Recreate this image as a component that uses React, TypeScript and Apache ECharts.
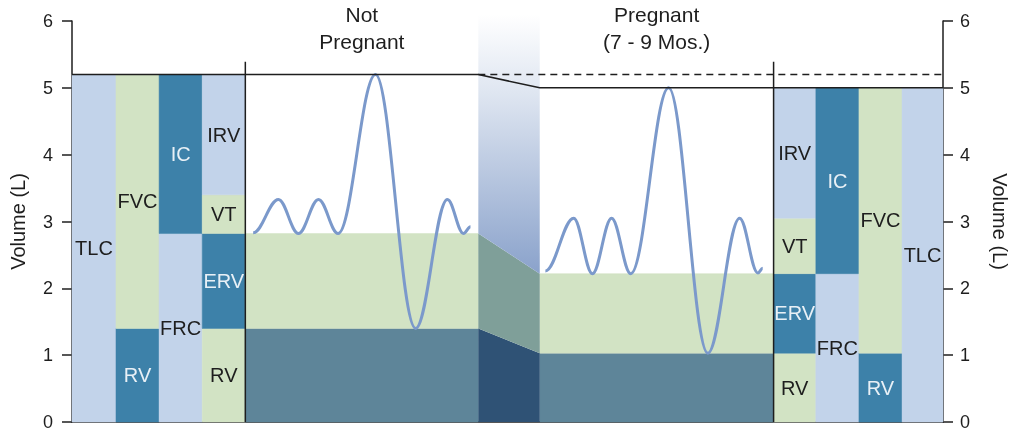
import React, { useEffect, useRef } from "react";
import * as echarts from "echarts";

// ---- data ----
const volumeNames = ["RV", "ERV", "VT", "IRV"];
const notPregnantVolumes = [1.4, 1.42, 0.58, 1.8];
const pregnantVolumes = [1.03, 1.19, 0.83, 1.95];

// x extents (in chart x units) of the columns and sections
const leftColumnEdges = [0, 1.01, 2.0, 2.99, 3.98];
const sectionEdges = [3.98, 9.33, 10.74, 16.11];
const rightColumnEdges = [16.11, 17.08, 18.07, 19.06, 20];
const sectionTitles = ["Not\nPregnant", "Pregnant\n(7 - 9 Mos.)"];
const dividerTop = 5.39;

// breathing traces: turning points
const notPregnantBreathX = [4.16, 4.74, 5.2, 5.66, 6.11, 6.97, 7.89, 8.62, 8.99, 9.15];
const notPregnantBreathY = [2.83, 3.33, 2.82, 3.33, 2.82, 5.2, 1.4, 3.33, 2.82, 2.92];
const pregnantBreathX = [10.87, 11.52, 11.95, 12.39, 12.83, 13.7, 14.6, 15.33, 15.75, 15.86];
const pregnantBreathY = [2.26, 3.05, 2.22, 3.05, 2.22, 5.0, 1.03, 3.05, 2.23, 2.3];

const yTicks = [0, 1, 2, 3, 4, 5, 6];

// ---- styles ----
const FONT = '"Liberation Sans", Arial, sans-serif';
const COLORS: Record<string, string> = {
  light: "#c2d3ea",
  green: "#d2e3c4",
  teal: "#3d81a9",
  dark: "#5e8599",
  navy: "#2f5275",
  slate: "#7f9f99",
};
const TEXT_DARK = "#1e1e1e";
const TEXT_LIGHT = "#e8f0f6";
const TRACE = "#7b99cb";

function cumulative(v: number[]) {
  const out = [0];
  v.forEach((x) => out.push(out[out.length - 1] + x));
  return out; // [0, RV, FRC, FRC+VT, TLC]
}

type Rect = { x0: number; x1: number; y0: number; y1: number; fill: string; label?: string };

function capacityColumns(vols: number[], edges: number[], mirrored: boolean): Rect[] {
  const c = cumulative(vols);
  const rv = c[1];
  const frc = c[2];
  const tlc = c[4];
  const cols: ((x0: number, x1: number) => Rect[])[] = [
    (x0, x1) => [{ x0, x1, y0: 0, y1: tlc, fill: "light", label: "TLC" }],
    (x0, x1) => [
      { x0, x1, y0: 0, y1: rv, fill: "teal", label: "RV" },
      { x0, x1, y0: rv, y1: tlc, fill: "green", label: "FVC" },
    ],
    (x0, x1) => [
      { x0, x1, y0: 0, y1: frc, fill: "light", label: "FRC" },
      { x0, x1, y0: frc, y1: tlc, fill: "teal", label: "IC" },
    ],
    (x0, x1) => {
      const fills = ["green", "teal", "green", "light"];
      return volumeNames.map((n, i) => ({ x0, x1, y0: c[i], y1: c[i + 1], fill: fills[i], label: n }));
    },
  ];
  const order = mirrored ? [3, 2, 1, 0] : [0, 1, 2, 3];
  const rects: Rect[] = [];
  order.forEach((k, i) => rects.push(...cols[k](edges[i], edges[i + 1])));
  return rects;
}

function sectionRects(vols: number[], x0: number, x1: number): Rect[] {
  const c = cumulative(vols);
  return [
    { x0, x1, y0: 0, y1: c[1], fill: "dark" },
    { x0, x1, y0: c[1], y1: c[2], fill: "green" },
  ];
}

export default function App() {
  const ref = useRef<HTMLDivElement>(null);

  useEffect(() => {
    const chart = echarts.init(ref.current!, undefined, { renderer: "svg" });

    const np = cumulative(notPregnantVolumes);
    const pg = cumulative(pregnantVolumes);
    const xa = sectionEdges[1];
    const xb = sectionEdges[2];

    const rects: Rect[] = [
      ...capacityColumns(notPregnantVolumes, leftColumnEdges, false),
      ...sectionRects(notPregnantVolumes, sectionEdges[0], sectionEdges[1]),
      ...sectionRects(pregnantVolumes, sectionEdges[2], sectionEdges[3]),
      ...capacityColumns(pregnantVolumes, rightColumnEdges, true),
    ];

    const gradient = new echarts.graphic.LinearGradient(0, 0, 0, 1, [
      { offset: 0, color: "#ffffff" },
      { offset: 0.3, color: "#dfe6f1" },
      { offset: 1, color: "#8aa2cb" },
    ]);
    const polys = [
      { pts: [[xa, 0], [xa, np[1]], [xb, pg[1]], [xb, 0]], fill: COLORS.navy as any },
      { pts: [[xa, np[1]], [xa, np[2]], [xb, pg[2]], [xb, pg[1]]], fill: COLORS.slate as any },
      { pts: [[xa, np[2]], [xa, 6.1], [xb, 6.1], [xb, pg[2]]], fill: gradient as any },
    ];

    const traces = [
      notPregnantBreathX.map((x, i) => [x, notPregnantBreathY[i]]),
      pregnantBreathX.map((x, i) => [x, pregnantBreathY[i]]),
    ];

    const blackLine = { color: "#1e1e1e", width: 1.5 };

    const option: any = {
      animation: false,
      grid: { left: 72, right: 68, top: 21, bottom: 16, outerBoundsMode: "none", containLabel: false },
      xAxis: {
        type: "value",
        min: 0,
        max: 20,
        axisLine: { show: true, onZero: false, lineStyle: blackLine },
        axisTick: { show: false },
        axisLabel: { show: false },
        splitLine: { show: false },
      },
      yAxis: [0, 1].map((i) => ({
        type: "value",
        min: yTicks[0],
        max: yTicks[yTicks.length - 1],
        interval: 1,
        position: i === 0 ? "left" : "right",
        name: "Volume (L)",
        nameLocation: "middle",
        nameMoveOverlap: false,
        nameGap: i === 0 ? 44 : 47,
        nameRotate: i === 0 ? 90 : -90,
        nameTextStyle: { fontSize: 20, color: TEXT_DARK, fontFamily: FONT },
        axisLine: { show: true, lineStyle: blackLine },
        axisTick: { show: true, length: 10, lineStyle: blackLine },
        axisLabel: { margin: i === 0 ? 19 : 17, fontSize: 18, color: TEXT_DARK, fontFamily: FONT },
        splitLine: { show: false },
      })),
      series: [
        {
          type: "custom",
          z: 1,
          silent: true,
          renderItem: (params: any, api: any) => {
            const r = rects[params.dataIndex];
            const p0 = api.coord([api.value(0), api.value(1)]);
            const p1 = api.coord([api.value(2), api.value(3)]);
            return {
              type: "rect",
              shape: { x: p0[0], y: p1[1], width: p1[0] - p0[0], height: p0[1] - p1[1] },
              style: { fill: COLORS[r.fill], stroke: COLORS[r.fill], lineWidth: 0.5 },
            };
          },
          data: rects.map((r) => [r.x0, r.y0, r.x1, r.y1]),
          encode: { x: [0, 2], y: [1, 3] },
        },
        {
          type: "custom",
          z: 1,
          silent: true,
          renderItem: (params: any, api: any) => {
            const p = polys[params.dataIndex];
            return {
              type: "polygon",
              shape: { points: p.pts.map((q) => api.coord(q)) },
              style: { fill: p.fill },
            };
          },
          data: polys.map((p) => p.pts[0]),
        },
        {
          // breathing traces: smooth cubic segments with flat tangents at each turning point
          type: "custom",
          z: 4,
          silent: true,
          renderItem: (params: any, api: any) => {
            const pts = traces[params.dataIndex].map((q) => api.coord(q));
            let d = `M${pts[0][0]},${pts[0][1]}`;
            for (let i = 1; i < pts.length; i++) {
              const a = pts[i - 1];
              const b = pts[i];
              const k = (b[0] - a[0]) * 0.37;
              d += ` C${a[0] + k},${a[1]} ${b[0] - k},${b[1]} ${b[0]},${b[1]}`;
            }
            return {
              type: "path",
              shape: { pathData: d },
              style: { fill: "none", stroke: TRACE, lineWidth: 3 },
            };
          },
          data: traces.map((t) => t[0]),
        },
        {
          type: "line",
          z: 5,
          symbol: "none",
          lineStyle: blackLine,
          data: [[0, np[4]], [xa, np[4]], [xb, pg[4]], [20, pg[4]]],
        },
        {
          type: "line",
          z: 5,
          symbol: "none",
          lineStyle: { ...blackLine, type: [7, 5] },
          data: [[xa, np[4]], [20, np[4]]],
        },
        {
          type: "line",
          z: 5,
          symbol: "none",
          lineStyle: blackLine,
          data: [[sectionEdges[0], 0], [sectionEdges[0], dividerTop]],
        },
        {
          type: "line",
          z: 5,
          symbol: "none",
          lineStyle: blackLine,
          data: [[sectionEdges[3], 0], [sectionEdges[3], dividerTop]],
        },
        {
          type: "custom",
          z: 6,
          silent: true,
          renderItem: (params: any, api: any) => {
            const r = rects[params.dataIndex];
            if (!r.label) return null;
            const p0 = api.coord([api.value(0), api.value(1)]);
            const p1 = api.coord([api.value(2), api.value(3)]);
            return {
              type: "text",
              style: {
                text: r.label,
                x: (p0[0] + p1[0]) / 2,
                y: (p0[1] + p1[1]) / 2,
                align: "center",
                verticalAlign: "middle",
                fill: r.fill === "teal" ? TEXT_LIGHT : TEXT_DARK,
                fontSize: 20,
                fontFamily: FONT,
              },
            };
          },
          data: rects.map((r) => [r.x0, r.y0, r.x1, r.y1]),
          encode: { x: [0, 2], y: [1, 3] },
        },
      ],
    };

    chart.setOption(option);

    const centers = [(sectionEdges[0] + sectionEdges[1]) / 2, (sectionEdges[2] + sectionEdges[3]) / 2];
    chart.setOption({
      graphic: sectionTitles.map((t, i) => ({
        type: "text",
        x: chart.convertToPixel({ xAxisIndex: 0 }, centers[i]),
        y: 28,
        z: 10,
        style: {
          text: t,
          align: "center",
          verticalAlign: "middle",
          fontSize: 21,
          lineHeight: 27,
          fill: TEXT_DARK,
          fontFamily: FONT,
        },
      })),
    });

    return () => chart.dispose();
  }, []);

  return <div ref={ref} style={{ position: "fixed", left: 0, top: 0, width: 1011, height: 438 }} />;
}
